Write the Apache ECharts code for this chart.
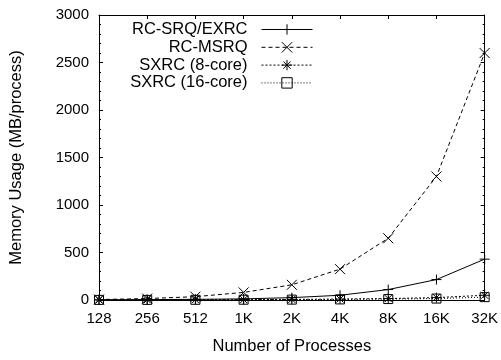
<!DOCTYPE html>
<html lang="en">

<head>
    <meta charset="UTF-8">
    <title>Memory Usage</title>
    <style>
        html, body { margin: 0; padding: 0; background: #fff; }
    </style>
</head>

<body>
    <div id="main" style="width: 501px; height: 360px"></div>
    <script src="https://cdn.jsdelivr.net/npm/echarts@6/dist/echarts.min.js"></script>
    <script type="text/javascript">
        // data
        var procs = ['128', '256', '512', '1K', '2K', '4K', '8K', '16K', '32K'];
        var rcSrq = [2, 4, 7, 12, 25, 50, 110, 215, 430];
        var rcMsrq = [5, 15, 35, 80, 160, 325, 650, 1300, 2600];
        var sxrc8 = [1, 2, 3, 4, 6, 10, 15, 25, 50];
        var sxrc16 = [1, 1, 2, 3, 4, 6, 10, 15, 30];
        var seriesNames = ['RC-SRQ/EXRC', 'RC-MSRQ', 'SXRC (8-core)', 'SXRC (16-core)'];
        var yTicks = [0, 3000, 500];

        var font = 'Liberation Sans, Arial, Helvetica, sans-serif';
        var myChart = echarts.init(document.getElementById('main'));

        var plusPath = 'path://M0,5L10,5M5,0L5,10';
        var crossPath = 'path://M0,0L10,10M10,0L0,10';
        var starPath = 'path://M0,5L10,5M5,0L5,10M1.5,1.5L8.5,8.5M8.5,1.5L1.5,8.5';

        function mkSeries(name, data, symbol, size, dash) {
            return {
                name: name,
                type: 'line',
                data: data,
                symbol: symbol,
                symbolSize: size,
                showAllSymbol: true,
                animation: false,
                lineStyle: { color: '#000', width: 1, type: dash },
                itemStyle: { color: 'none', borderColor: '#000', borderWidth: 1 }
            };
        }

        var yBase = {
            type: 'value',
            min: yTicks[0],
            max: yTicks[1],
            interval: yTicks[2],
            splitLine: { show: false },
            axisLine: { show: true, lineStyle: { color: '#000', width: 1 } },
            axisTick: { show: true, inside: true, length: 4, lineStyle: { color: '#000' } },
            minorTick: { show: true, splitNumber: 5, length: 2, lineStyle: { color: '#000' } }
        };
        var xBase = {
            type: 'category',
            data: procs,
            boundaryGap: false,
            axisLine: { show: true, onZero: false, lineStyle: { color: '#000', width: 1 } },
            axisTick: { show: true, inside: true, length: 4, alignWithLabel: true, lineStyle: { color: '#000' } },
            splitLine: { show: false }
        };

        var option = {
            backgroundColor: '#fff',
            animation: false,
            grid: { left: 96, right: 14, top: 15, bottom: 55 },
            legend: {
                orient: 'vertical',
                right: 188,
                top: 21,
                padding: 0,
                align: 'right',
                itemWidth: 51,
                itemHeight: 13,
                itemGap: 0.8,
                lineStyle: { width: 1 },
                itemStyle: { color: 'none', borderColor: '#000', borderWidth: 1 },
                textStyle: { fontFamily: font, fontSize: 16.5, color: '#000', lineHeight: 16.5, padding: [0, 9, 0, 0] },
                data: seriesNames
            },
            xAxis: [
                Object.assign({}, xBase, {
                    position: 'bottom',
                    name: 'Number of Processes',
                    nameLocation: 'middle',
                    nameGap: 38,
                    nameTextStyle: { fontFamily: font, fontSize: 16.5, color: '#000' },
                    axisLabel: { fontFamily: font, fontSize: 15, color: '#000', margin: 11 }
                }),
                Object.assign({}, xBase, {
                    position: 'top',
                    axisLabel: { show: false }
                })
            ],
            yAxis: [
                Object.assign({}, yBase, {
                    position: 'left',
                    name: 'Memory Usage (MB/process)',
                    nameLocation: 'middle',
                    nameGap: 74,
                    nameTextStyle: { fontFamily: font, fontSize: 16.5, color: '#000' },
                    axisLabel: {
                        fontFamily: font, fontSize: 15, color: '#000', margin: 10,
                        formatter: function(v) { return String(v); }
                    }
                }),
                Object.assign({}, yBase, {
                    position: 'right',
                    axisLabel: { show: false }
                })
            ],
            series: [
                mkSeries(seriesNames[0], rcSrq, plusPath, 10, 'solid'),
                mkSeries(seriesNames[1], rcMsrq, crossPath, 10, [4, 3]),
                mkSeries(seriesNames[2], sxrc8, starPath, 10, [2, 2]),
                mkSeries(seriesNames[3], sxrc16, 'rect', 9, [1, 2])
            ]
        };
        myChart.setOption(option);

        window.onresize = function() {
            myChart.resize();
        };
    </script>

</body>

</html>
